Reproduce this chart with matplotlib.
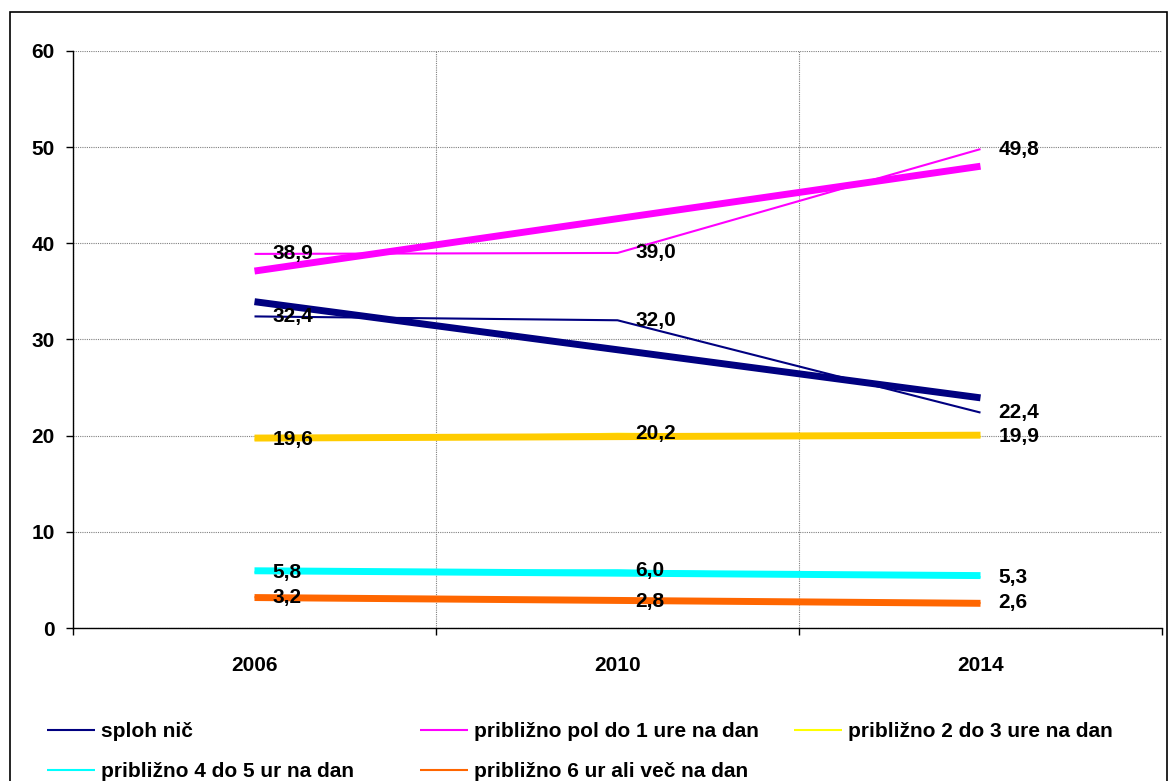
import matplotlib
matplotlib.use("Agg")
import matplotlib.pyplot as plt
import numpy as np
from matplotlib.patches import Rectangle

plt.rcParams['font.family'] = ['Liberation Sans', 'DejaVu Sans']
plt.rcParams['font.weight'] = 'bold'

years = ['2006', '2010', '2014']
labels = ['sploh nič', 'približno pol do 1 ure na dan', 'približno 2 do 3 ure na dan',
          'približno 4 do 5 ur na dan', 'približno 6 ur ali več na dan']
sploh = [32.4, 32.0, 22.4]
pol_do_1 = [38.9, 39.0, 49.8]
dve_do_3 = [19.6, 20.2, 19.9]
stiri_do_5 = [5.8, 6.0, 5.3]
sest_vec = [3.2, 2.8, 2.6]

series = [sploh, pol_do_1, dve_do_3, stiri_do_5, sest_vec]
line_colors = ['#000080', '#FF00FF', '#FFFF00', '#00FFFF', '#FF6600']
trend_colors = ['#000080', '#FF00FF', '#FFCC00', '#00FFFF', '#FF6600']

fs = 15
fig = plt.figure(figsize=(11.68, 7.81), dpi=100)
ax = fig.add_axes([73/1168, 1-628/781, (1162-73)/1168, (628-51)/781])

x = np.arange(len(years)) + 0.5
handles = []
for vals, lc, tc, lab in zip(series, line_colors, trend_colors, labels):
    h, = ax.plot(x, vals, color=lc, lw=1.5, zorder=3, label=lab, solid_capstyle='butt')
    handles.append(h)
    # linear trendline through the three points
    k, b = np.polyfit(x, vals, 1)
    ax.plot(x, k*x + b, color=tc, lw=5, zorder=4, solid_capstyle='butt')
    for xi, v in zip(x, vals):
        ax.annotate(f'{v:.1f}'.replace('.', ','), (xi, v), xytext=(13, 0),
                    textcoords='offset points', ha='left', va='center',
                    fontsize=fs, fontweight='bold', zorder=6)

ax.set_xlim(0, 3)
ax.set_ylim(0, 60)
ax.set_yticks(range(0, 61, 10))
ax.set_xticks([0, 1, 2, 3])
ax.set_xticklabels([])
ax.set_xticks(x, minor=True)
ax.set_xticklabels(years, minor=True)
ax.tick_params(axis='x', which='minor', length=0, pad=20, labelsize=fs)
ax.tick_params(axis='x', which='major', length=5, direction='out', width=1)
ax.tick_params(axis='y', length=5, direction='out', pad=8, labelsize=fs, width=1)

ax.grid(True, axis='y', linestyle=(0, (1, 1)), color='#808080', lw=0.8)
ax.grid(True, axis='x', which='major', linestyle=(0, (1, 1)), color='#808080', lw=0.8)
ax.set_axisbelow(True)
for s in ['top', 'right']:
    ax.spines[s].set_visible(False)
ax.spines['left'].set_linewidth(1)
ax.spines['bottom'].set_linewidth(1)

# legend: three columns, placed separately like the Excel legend
columns = [[0, 3], [1, 4], [2]]
col_x = [47, 420, 794]
for idx, cx in zip(columns, col_x):
    leg = fig.legend([handles[i] for i in idx], [labels[i] for i in idx],
                     loc='upper left', bbox_to_anchor=(cx/1168, 1-722/781),
                     frameon=False, borderpad=0, borderaxespad=0,
                     handlelength=2.3, handletextpad=0.3, labelspacing=1.0,
                     prop={'weight': 'bold', 'size': fs})

# chart frame (bottom edge falls outside the image, as in the source)
fig.patches.append(Rectangle((10/1168, -0.05), 1 - 11/1168, 1.05 - 12/781,
                             transform=fig.transFigure, fill=False,
                             edgecolor='black', lw=1.2))

fig.savefig('out.png', dpi=100)
